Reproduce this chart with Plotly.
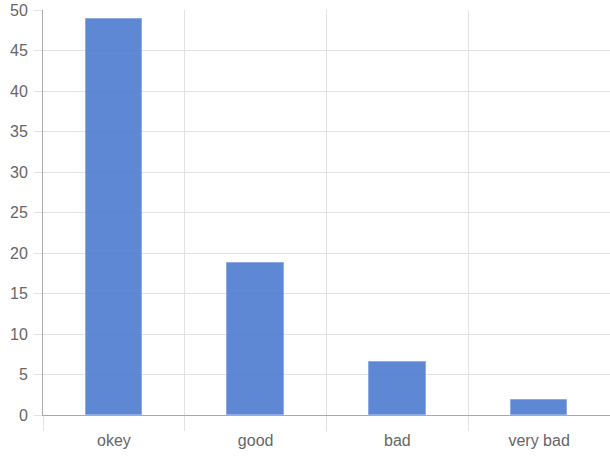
import plotly.graph_objects as go

categories = ["okey", "good", "bad", "very bad"]
values = [49, 18.8, 6.6, 1.9]
y_ticks = [0, 5, 10, 15, 20, 25, 30, 35, 40, 45, 50]

fig = go.Figure()

fig.add_trace(go.Bar(
    x=categories,
    y=values,
    width=0.4,
    marker=dict(color="rgba(76,122,207,0.9)", line=dict(color="rgba(140,170,230,1)", width=1)),
    hoverinfo="x+y",
))

fig.update_layout(
    width=610,
    height=460,
    margin=dict(l=43, r=0, t=10, b=45),
    paper_bgcolor="white",
    plot_bgcolor="white",
    showlegend=False,
    font=dict(family="Arial, Liberation Sans, sans-serif", size=16, color="#666666"),
    bargap=0,
    xaxis=dict(
        type="category",
        tickson="boundaries",
        showgrid=True,
        gridcolor="#e2e2e2",
        gridwidth=1,
        ticks="outside",
        ticklen=15,
        tickcolor="#e2e2e2",
        ticklabelstandoff=11,
        showline=True,
        linecolor="#aaaaaa",
        linewidth=1,
        automargin=False,
        tickfont=dict(size=16, color="#666666"),
    ),
    yaxis=dict(
        range=[0, 50.05],
        tickvals=y_ticks,
        showgrid=True,
        gridcolor="#e2e2e2",
        gridwidth=1,
        ticks="outside",
        ticklen=8,
        tickcolor="#e2e2e2",
        ticklabelstandoff=3,
        ticklabeloverflow="allow",
        showline=True,
        linecolor="#aaaaaa",
        linewidth=1,
        zeroline=False,
        automargin=False,
        tickfont=dict(size=16, color="#666666"),
    ),
)

# drop the default 8px page margin so the chart sits at the top-left corner
fig.write_html(
    "out.html",
    config={"displayModeBar": False},
    post_script="document.body.style.margin = '0';",
)
